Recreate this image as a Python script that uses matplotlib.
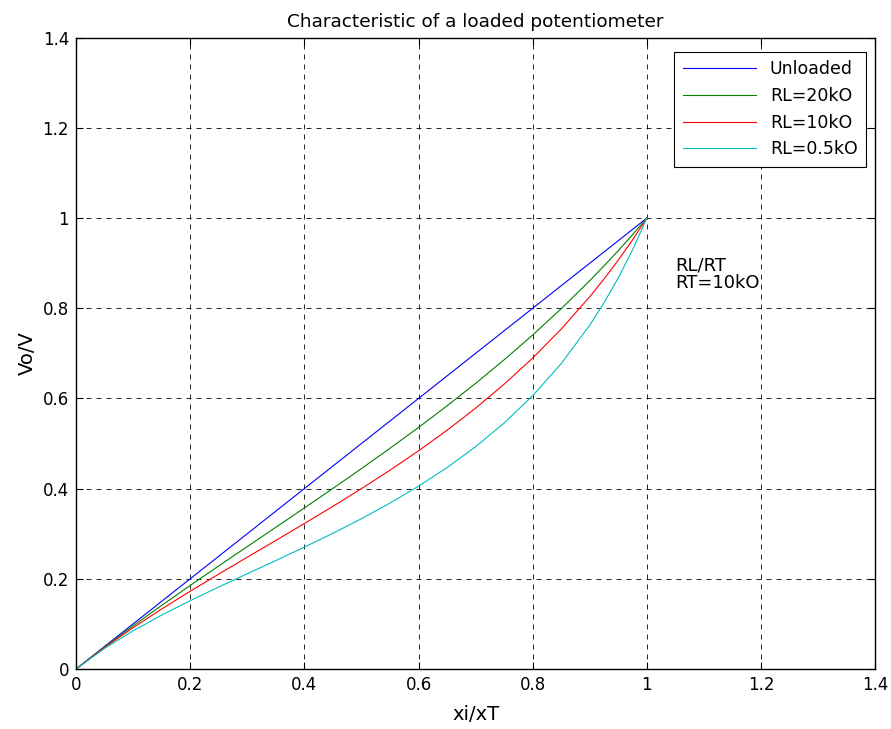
import matplotlib
matplotlib.use("Agg")
import matplotlib.pyplot as plt

plt.rcParams['font.family'] = ['DejaVu Sans']

# position of the wiper xi/xT
x = [0.0, 0.05, 0.1, 0.15, 0.2, 0.25, 0.3, 0.35, 0.4, 0.45, 0.5,
     0.55, 0.6, 0.65, 0.7, 0.75, 0.8, 0.85, 0.9, 0.925, 0.95, 0.975, 1.0]

# Vo/V
unloaded = x
rl_20k = [0.0, 0.0488, 0.0957, 0.1410, 0.1852, 0.2286, 0.2715, 0.3143, 0.3571, 0.4004, 0.4444,
          0.4894, 0.5357, 0.5836, 0.6335, 0.6857, 0.7407, 0.7991, 0.8612, 0.8940, 0.9280, 0.9633, 1.0]
rl_10k = [0.0, 0.0477, 0.0917, 0.1330, 0.1724, 0.2105, 0.2479, 0.2851, 0.3226, 0.3607, 0.4000,
          0.4409, 0.4839, 0.5295, 0.5785, 0.6316, 0.6897, 0.7539, 0.8257, 0.8650, 0.9069, 0.9518, 1.0]
rl_05k = [0.0, 0.0457, 0.0847, 0.1195, 0.1515, 0.1818, 0.2113, 0.2405, 0.2703, 0.3010, 0.3333,
          0.3679, 0.4054, 0.4467, 0.4930, 0.5455, 0.6061, 0.6773, 0.7627, 0.8123, 0.8676, 0.9297, 1.0]

fig = plt.figure(figsize=(8.91, 7.29), dpi=100)
ax = fig.add_axes([0.0853, 0.0823, 0.897, 0.866])

ax.plot(x, unloaded, color='blue', lw=0.8, label='Unloaded')
ax.plot(x, rl_20k, color='green', lw=0.8, label='RL=20kO')
ax.plot(x, rl_10k, color='red', lw=0.8, label='RL=10kO')
ax.plot(x, rl_05k, color='c', lw=0.8, label='RL=0.5kO')

ax.set_xlim(0, 1.4)
ax.set_ylim(0, 1.4)
ticks = [0, 0.2, 0.4, 0.6, 0.8, 1, 1.2, 1.4]
labels = ['0', '0.2', '0.4', '0.6', '0.8', '1', '1.2', '1.4']
ax.set_xticks(ticks)
ax.set_xticklabels(labels)
ax.set_yticks(ticks)
ax.set_yticklabels(labels)
ax.tick_params(direction='in', length=5, labelsize=12, top=True, right=True, pad=5)
ax.grid(True, color='black', linestyle=(0, (6, 6)), lw=0.6)
for s in ax.spines.values():
    s.set_linewidth(1.0)

ax.set_title('Characteristic of a loaded potentiometer', fontsize=13.3, pad=8)
ax.set_xlabel('xi/xT', fontsize=14, labelpad=8)
ax.set_ylabel('Vo/V', fontsize=14, labelpad=4)

ax.text(1.05, 0.915, 'RL/RT\nRT=10kO', fontsize=13, va='top', linespacing=1.0)

leg = ax.legend(loc='upper right', bbox_to_anchor=(0.9887, 0.9778), fontsize=12.5,
                fancybox=False, framealpha=1, edgecolor='black', borderaxespad=0,
                handlelength=4.2, labelspacing=0.5, borderpad=0.5)
leg.get_frame().set_linewidth(0.8)

fig.savefig('out.png', dpi=100)
